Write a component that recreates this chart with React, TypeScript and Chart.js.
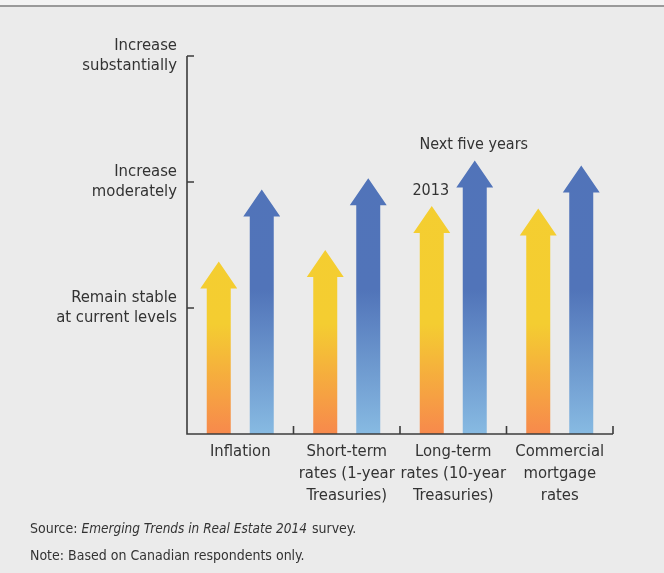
import React, { useEffect, useRef } from "react";
import { Chart, registerables } from "chart.js";
Chart.register(...registerables);

const categories: string[][] = [
  ["Inflation"],
  ["Short-term", "rates (1-year", "Treasuries)"],
  ["Long-term", "rates (10-year", "Treasuries)"],
  ["Commercial", "mortgage", "rates"],
];
const yLevelLabels: string[][] = [
  [""],
  ["Remain stable", "at current levels"],
  ["Increase", "moderately"],
  ["Increase", "substantially"],
];
const series2013 = [1.37, 1.46, 1.81, 1.79];
const seriesNext5 = [1.94, 2.03, 2.17, 2.13];
const seriesNames = ["2013", "Next five years"];
const sourceParts = ["Source: ", "Emerging Trends in Real Estate 2014", " survey."];
const noteText = "Note: Based on Canadian respondents only.";

const FAMILY = "'Liberation Sans Narrow', 'DejaVu Sans Condensed', 'Roboto Condensed', sans-serif";
const TEXT = "#333333";
const AXIS = "#3c3c3c";

const arrowPlugin = {
  id: "arrowPlugin",
  beforeDraw(chart: any) {
    const { ctx, width, height } = chart;
    ctx.save();
    ctx.fillStyle = "#ebebeb";
    ctx.fillRect(0, 0, width, height);
    ctx.fillStyle = "#f3f3f3";
    ctx.fillRect(0, 0, width, 5);
    ctx.strokeStyle = "#9a9a9a";
    ctx.lineWidth = 2;
    ctx.beginPath();
    ctx.moveTo(0, 6);
    ctx.lineTo(width, 6);
    ctx.stroke();
    ctx.restore();
  },
  afterDatasetsDraw(chart: any) {
    const { ctx } = chart;
    const yScale = chart.scales.y;
    const bottom = yScale.getPixelForValue(0);
    const top = yScale.getPixelForValue(3);
    const span = bottom - top;
    const gradY = ctx.createLinearGradient(0, bottom, 0, top);
    gradY.addColorStop(0, "#f7894c");
    gradY.addColorStop(110 / span, "#f4cd31");
    gradY.addColorStop(1, "#f4cf30");
    const gradB = ctx.createLinearGradient(0, bottom, 0, top);
    gradB.addColorStop(0, "#87bae2");
    gradB.addColorStop(144 / span, "#5174b9");
    gradB.addColorStop(1, "#5173b9");
    const fills = [gradY, gradB];
    const headH = 27;
    chart.data.datasets.forEach((ds: any, di: number) => {
      const meta = chart.getDatasetMeta(di);
      meta.data.forEach((el: any) => {
        const { x, y, base, width } = el.getProps(["x", "y", "base", "width"], true);
        const hw = width / 2;
        const hh = width * 0.77;
        ctx.save();
        ctx.fillStyle = fills[di];
        ctx.beginPath();
        ctx.moveTo(x - hw, base);
        ctx.lineTo(x - hw, y + headH);
        ctx.lineTo(x - hh, y + headH);
        ctx.lineTo(x, y);
        ctx.lineTo(x + hh, y + headH);
        ctx.lineTo(x + hw, y + headH);
        ctx.lineTo(x + hw, base);
        ctx.closePath();
        ctx.fill();
        ctx.restore();
      });
    });
  },
  afterDraw(chart: any) {
    const { ctx, chartArea } = chart;
    const xScale = chart.scales.x;
    const yScale = chart.scales.y;
    const left = chartArea.left;
    const right = chartArea.right;
    const bottom = yScale.getPixelForValue(0);
    ctx.save();
    ctx.strokeStyle = AXIS;
    ctx.lineWidth = 1.6;
    ctx.beginPath();
    ctx.moveTo(left, yScale.getPixelForValue(3));
    ctx.lineTo(left, bottom);
    ctx.lineTo(right, bottom);
    for (let v = 0; v <= 3; v++) {
      const py = yScale.getPixelForValue(v);
      ctx.moveTo(left, py);
      ctx.lineTo(left + 7, py);
    }
    const n = categories.length;
    for (let i = 1; i <= n; i++) {
      const px = i < n ? (xScale.getPixelForValue(i - 1) + xScale.getPixelForValue(i)) / 2 : right;
      ctx.moveTo(px, bottom);
      ctx.lineTo(px, bottom - 8);
    }
    ctx.stroke();

    // series labels above the long-term arrows
    ctx.fillStyle = TEXT;
    ctx.font = `16px ${FAMILY}`;
    ctx.textAlign = "center";
    ctx.textBaseline = "middle";
    const m0 = chart.getDatasetMeta(0).data[2];
    const m1 = chart.getDatasetMeta(1).data[2];
    ctx.fillText(seriesNames[0], m0.x - 1, m0.y - 15);
    ctx.fillText(seriesNames[1], m1.x - 1, m1.y - 16);

    // footer
    ctx.textAlign = "left";
    ctx.font = `14px ${FAMILY}`;
    let fx = 30;
    const sy = 529;
    ctx.fillText(sourceParts[0], fx, sy);
    fx += ctx.measureText(sourceParts[0]).width;
    ctx.font = `italic 13.5px ${FAMILY}`;
    ctx.fillText(sourceParts[1], fx, sy);
    fx += ctx.measureText(sourceParts[1]).width + 1;
    ctx.font = `14px ${FAMILY}`;
    ctx.fillText(sourceParts[2], fx, sy);
    ctx.fillText(noteText, 30, 556);
    ctx.restore();
  },
};

export default function App() {
  const ref = useRef<HTMLCanvasElement | null>(null);
  useEffect(() => {
    if (!ref.current) return;
    const chart = new Chart(ref.current, {
      type: "bar",
      data: {
        labels: categories as any,
        datasets: [
          { label: seriesNames[0], data: series2013, backgroundColor: "rgba(0,0,0,0)", borderWidth: 0 },
          { label: seriesNames[1], data: seriesNext5, backgroundColor: "rgba(0,0,0,0)", borderWidth: 0 },
        ],
      },
      options: {
        responsive: false,
        animation: false,
        events: [],
        datasets: { bar: { categoryPercentage: 0.8075, barPercentage: 0.558 } },
        layout: { padding: { top: 56, right: 51, bottom: 0, left: 0 } },
        plugins: { legend: { display: false }, tooltip: { enabled: false } },
        scales: {
          x: {
            grid: { display: false },
            border: { display: false },
            ticks: {
              color: TEXT,
              font: { family: FAMILY, size: 16.5, lineHeight: 1.33 },
              padding: -1,
              maxRotation: 0,
              autoSkip: false,
            },
            afterFit: (s: any) => {
              s.height = 139;
            },
          },
          y: {
            min: 0,
            max: 3,
            grid: { display: false },
            border: { display: false },
            ticks: {
              stepSize: 1,
              padding: 2,
              color: TEXT,
              font: { family: FAMILY, size: 16.5, lineHeight: 1.22 },
              callback: (v: any) => yLevelLabels[Number(v)] ?? "",
            },
            afterFit: (s: any) => {
              s.width = 187;
            },
          },
        },
      },
      plugins: [arrowPlugin],
    });
    return () => chart.destroy();
  }, []);
  return (
    <div style={{ position: "fixed", left: 0, top: 0, width: 664, height: 573 }}>
      <canvas ref={ref} width={664} height={573} style={{ display: "block" }} />
    </div>
  );
}
